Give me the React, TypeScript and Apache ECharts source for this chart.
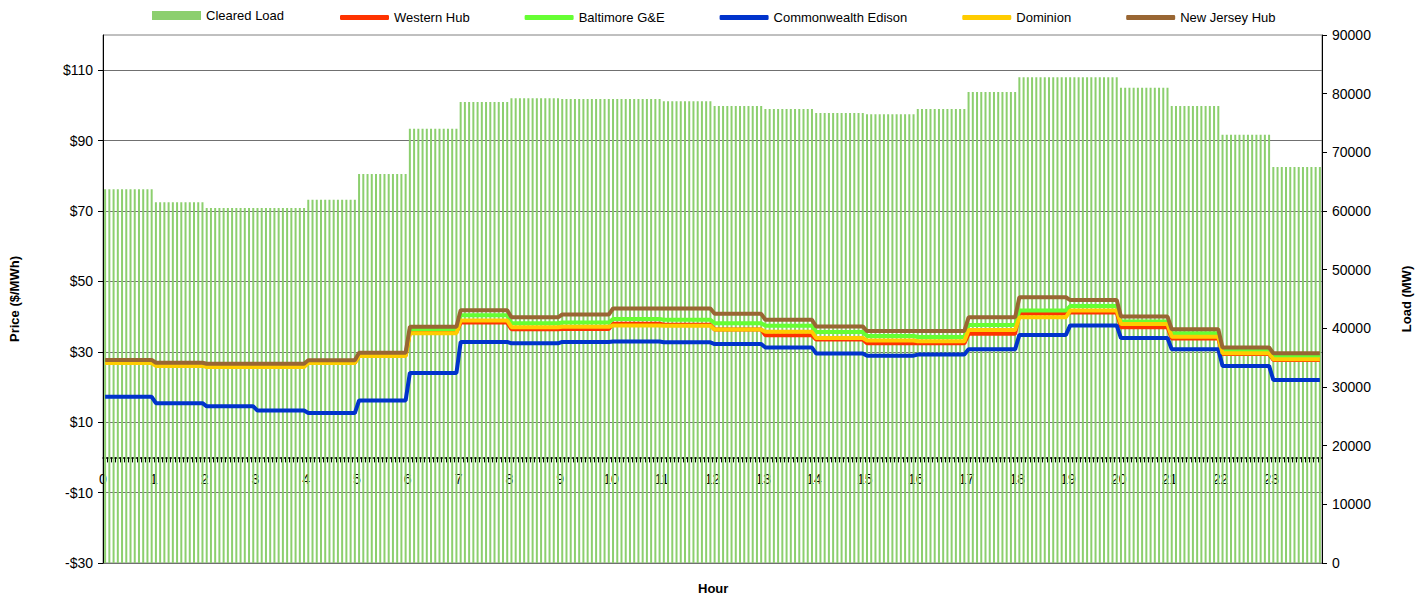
import React, { useEffect, useRef } from "react";
import * as echarts from "echarts";

// Hourly values (hour 0..23), shown at 5-minute resolution (12 intervals per hour)
const hours = [0, 1, 2, 3, 4, 5, 6, 7, 8, 9, 10, 11, 12, 13, 14, 15, 16, 17, 18, 19, 20, 21, 22, 23];
const intervalsPerHour = 12;

const clearedLoad = [63700, 61500, 60500, 60500, 61900, 66300, 74000, 78600, 79200, 79100, 79100, 78700, 77900, 77400, 76700, 76500, 77400, 80300, 82800, 82800, 81000, 77900, 73000, 67500];
const westernHub = [27.0, 26.2, 25.9, 25.9, 26.9, 28.9, 35.6, 38.3, 36.4, 36.5, 38.0, 37.7, 36.3, 34.7, 33.5, 32.4, 32.4, 35.1, 40.9, 41.2, 37.0, 33.8, 29.4, 27.7];
const baltimore = [27.3, 26.5, 26.2, 26.2, 27.2, 29.2, 36.4, 40.4, 38.1, 38.3, 39.3, 39.1, 38.1, 37.4, 35.6, 34.5, 34.2, 37.6, 41.7, 43.0, 38.6, 35.3, 30.3, 28.8];
const comEd = [17.2, 15.4, 14.5, 13.3, 12.6, 16.2, 24.0, 32.8, 32.4, 32.8, 32.9, 32.7, 32.2, 31.2, 29.5, 28.9, 29.2, 30.7, 34.8, 37.5, 33.9, 30.7, 26.0, 22.0];
const dominion = [26.8, 26.0, 25.7, 25.7, 26.8, 28.8, 35.3, 38.9, 37.0, 37.1, 37.5, 37.4, 36.3, 35.7, 33.9, 33.2, 33.0, 36.2, 39.8, 41.7, 37.9, 34.3, 29.6, 27.9];
const newJersey = [27.7, 26.9, 26.6, 26.6, 27.6, 29.7, 37.1, 41.8, 39.8, 40.6, 42.3, 42.3, 40.8, 39.1, 37.2, 35.9, 35.9, 39.8, 45.5, 44.7, 40.0, 36.4, 31.2, 29.6];

const priceTicks = [-30, -10, 10, 30, 50, 70, 90, 110];
const priceMin = -30;
const priceMax = 120;

const seriesNames = ["Cleared Load", "Western Hub", "Baltimore G&E", "Commonwealth Edison", "Dominion", "New Jersey Hub"];
const seriesColors = ["#8ccf6e", "#ff3300", "#66ff33", "#0033cc", "#ffcc00", "#996633"];

const FONT = "'Liberation Sans', Arial, sans-serif";

function expand(arr: number[]): number[] {
  const out: number[] = [];
  arr.forEach((v) => {
    for (let i = 0; i < intervalsPerHour; i++) out.push(v);
  });
  return out;
}

const categories: string[] = [];
hours.forEach((h) => {
  for (let i = 0; i < intervalsPerHour; i++) {
    categories.push(`${h}:${String(i * 5).padStart(2, "0")}`);
  }
});

const GRID_TOP = 35;
const GRID_BOTTOM = 36;
const CHART_H = 599;

export default function App() {
  const ref = useRef<HTMLDivElement>(null);
  useEffect(() => {
    if (!ref.current) return;
    const chart = echarts.init(ref.current, undefined, { renderer: "svg" });
    const priceSeries = [westernHub, baltimore, comEd, dominion, newJersey];
    const plotH = CHART_H - GRID_TOP - GRID_BOTTOM;
    // distance from the bottom of the plot to the $0 line
    const zeroOffset = (plotH * (0 - priceMin)) / (priceMax - priceMin);
    const legendText = { fontSize: 13, color: "#000", fontFamily: FONT };
    const option: any = {
      animation: false,
      backgroundColor: "#ffffff",
      textStyle: { fontFamily: FONT },
      grid: {
        left: 99,
        right: 94,
        top: GRID_TOP,
        bottom: GRID_BOTTOM,
        show: true,
        borderColor: "#808080",
        borderWidth: 1,
        containLabel: false,
      },
      legend: [
        {
          top: 9,
          left: 152,
          padding: 0,
          itemWidth: 49,
          itemHeight: 9,
          textStyle: legendText,
          data: [{ name: seriesNames[0], icon: "rect" }],
        },
        {
          top: 11,
          left: 340,
          padding: 0,
          itemWidth: 49,
          itemHeight: 5,
          itemGap: 55,
          textStyle: legendText,
          data: seriesNames.slice(1).map((n) => ({ name: n, icon: "roundRect" })),
        },
      ],
      xAxis: {
        type: "category",
        data: categories,
        boundaryGap: true,
        position: "bottom",
        offset: -zeroOffset,
        axisLine: { onZero: false, lineStyle: { color: "#000", width: 1.5 } },
        axisTick: { show: true, interval: 0, length: 5, inside: false, lineStyle: { color: "#000", width: 1 } },
        axisLabel: {
          interval: (index: number) => index % intervalsPerHour === 0,
          formatter: (_v: string, index: number) => String(hours[Math.floor(index / intervalsPerHour)]),
          fontSize: 14,
          color: "#000",
          fontFamily: FONT,
          margin: 15,
          padding: [0, 4.26, 0, 0],
        },
        splitLine: { show: false },
      },
      yAxis: [
        {
          type: "value",
          min: priceMin,
          max: priceMax,
          position: "left",
          name: "Price ($/MWh)",
          nameLocation: "middle",
          nameGap: 82,
          nameTextStyle: { fontSize: 13, fontWeight: "bold", color: "#000", fontFamily: FONT },
          axisLine: { show: true, lineStyle: { color: "#000", width: 1 } },
          axisTick: { show: true, length: 5, customValues: priceTicks, lineStyle: { color: "#000" } },
          axisLabel: {
            customValues: priceTicks,
            fontSize: 14,
            color: "#000",
            fontFamily: FONT,
            margin: 10,
            formatter: (v: number) => (v < 0 ? `-$${-v}` : `$${v}`),
          },
          splitLine: { show: true, lineStyle: { color: "#707070", width: 1 } },
        },
        {
          type: "value",
          min: 0,
          max: 90000,
          interval: 10000,
          position: "right",
          name: "Load (MW)",
          nameLocation: "middle",
          nameGap: 78,
          nameTextStyle: { fontSize: 13, fontWeight: "bold", color: "#000", fontFamily: FONT },
          axisLine: { show: true, lineStyle: { color: "#000", width: 1 } },
          axisTick: { show: true, length: 5, lineStyle: { color: "#000" } },
          axisLabel: {
            fontSize: 14,
            color: "#000",
            fontFamily: FONT,
            margin: 10,
            formatter: (v: number) => String(v),
          },
          splitLine: { show: false },
        },
      ],
      series: [
        {
          name: seriesNames[0],
          type: "bar",
          yAxisIndex: 1,
          data: expand(clearedLoad),
          barWidth: 2,
          itemStyle: { color: seriesColors[0] },
        },
        ...priceSeries.map((arr, i) => ({
          name: seriesNames[i + 1],
          type: "line",
          yAxisIndex: 0,
          data: expand(arr),
          showSymbol: false,
          symbol: "none",
          lineStyle: { color: seriesColors[i + 1], width: 4 },
          itemStyle: { color: seriesColors[i + 1] },
          z: 3 + i,
        })),
      ],
      graphic: [
        {
          type: "text",
          left: 713 - 15,
          top: 582,
          style: { text: "Hour", font: `bold 13px ${FONT}`, fill: "#000" },
        },
      ],
    };
    chart.setOption(option);
    return () => chart.dispose();
  }, []);
  return (
    <div
      ref={ref}
      style={{ position: "fixed", left: 0, top: 0, width: 1421, height: 599 }}
    />
  );
}
